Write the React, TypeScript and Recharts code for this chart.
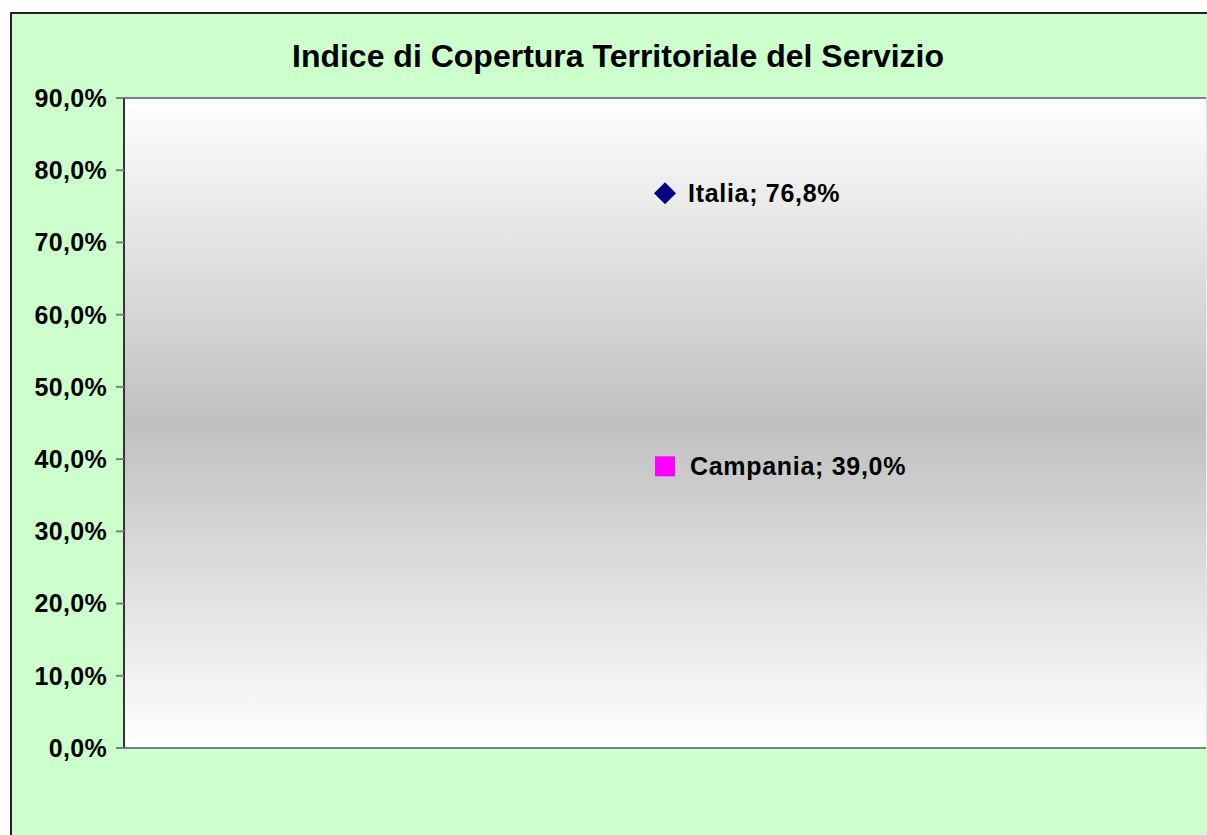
import React from "react";
import {
  ScatterChart,
  Scatter,
  XAxis,
  YAxis,
  ReferenceArea,
  ReferenceLine,
} from "recharts";

const regions = ["Italia", "Campania"];
const coverage = [76.8, 39.0];
const xSlot = [1, 1];
const yTicks = [0, 10, 20, 30, 40, 50, 60, 70, 80, 90];

const FONT = "'Liberation Sans', Arial, Helvetica, sans-serif";

const italiaData = [{ x: xSlot[0], y: coverage[0], name: regions[0] }];
const campaniaData = [{ x: xSlot[1], y: coverage[1], name: regions[1] }];

const fmtPct = (v: number) => `${v.toFixed(1).replace(".", ",")}%`;

const PointLabel = ({ cx, cy, payload, dx }: any) => (
  <text
    x={cx + dx}
    y={cy + 9}
    fontFamily={FONT}
    fontSize={25}
    fontWeight="bold"
    letterSpacing={0.7}
    fill="#000"
  >
    {`${payload.name}; ${fmtPct(payload.y)}`}
  </text>
);

const DiamondShape = (props: any) => {
  const { cx, cy } = props;
  const r = 11;
  return (
    <g>
      <polygon
        points={`${cx},${cy - r} ${cx + r},${cy} ${cx},${cy + r} ${cx - r},${cy}`}
        fill="#000080"
      />
      <PointLabel {...props} dx={23} />
    </g>
  );
};

const SquareShape = (props: any) => {
  const { cx, cy } = props;
  return (
    <g>
      <rect x={cx - 10} y={cy - 10} width={20} height={20} fill="#FF00FF" />
      <PointLabel {...props} dx={25} />
    </g>
  );
};

export default function App() {
  return (
    <div
      style={{
        position: "fixed",
        left: 0,
        top: 0,
        right: 0,
        bottom: 0,
        overflow: "hidden",
        background: "#fff",
      }}
    >
      <div
        style={{
          position: "absolute",
          left: 10,
          top: 12,
          width: 1400,
          height: 1000,
          background: "#CCFFCC",
          borderTop: "2px solid #222",
          borderLeft: "2px solid #222",
        }}
      />
      <div
        style={{
          position: "absolute",
          left: 618,
          top: 40,
          transform: "translateX(-50%)",
          whiteSpace: "nowrap",
          fontFamily: FONT,
          fontWeight: "bold",
          fontSize: 32,
          lineHeight: "32px",
          color: "#000",
        }}
      >
        Indice di Copertura Territoriale del Servizio
      </div>
      <div style={{ position: "absolute", left: 0, top: 0 }}>
        <ScatterChart
          width={1260}
          height={835}
          margin={{ top: 98, right: 54, bottom: 87, left: 0 }}
        >
          <defs>
            <linearGradient id="plotGrad" x1="0" y1="0" x2="0" y2="1">
              <stop offset="0%" stopColor="#FFFFFF" />
              <stop offset="50%" stopColor="#C0C0C0" />
              <stop offset="100%" stopColor="#FFFFFF" />
            </linearGradient>
          </defs>
          <XAxis type="number" dataKey="x" domain={[0, 2]} hide />
          <YAxis
            type="number"
            dataKey="y"
            domain={[0, 90]}
            ticks={yTicks}
            width={124}
            tickFormatter={fmtPct}
            tickSize={8}
            tickMargin={9}
            axisLine={{ stroke: "#333", strokeWidth: 2 }}
            tickLine={{ stroke: "#808080", strokeWidth: 2 }}
            tick={{
              fill: "#000",
              fontSize: 25,
              fontWeight: "bold",
              fontFamily: FONT,
              letterSpacing: 0.3,
            }}
          />
          <ReferenceArea
            x1={0}
            x2={2}
            y1={0}
            y2={90}
            fill="url(#plotGrad)"
            fillOpacity={1}
            stroke="none"
          />
          <ReferenceLine y={90} stroke="#808080" strokeWidth={2} />
          <ReferenceLine y={0} stroke="#808080" strokeWidth={2} />
          <Scatter
            data={italiaData}
            shape={<DiamondShape />}
            isAnimationActive={false}
          />
          <Scatter
            data={campaniaData}
            shape={<SquareShape />}
            isAnimationActive={false}
          />
        </ScatterChart>
      </div>
    </div>
  );
}
